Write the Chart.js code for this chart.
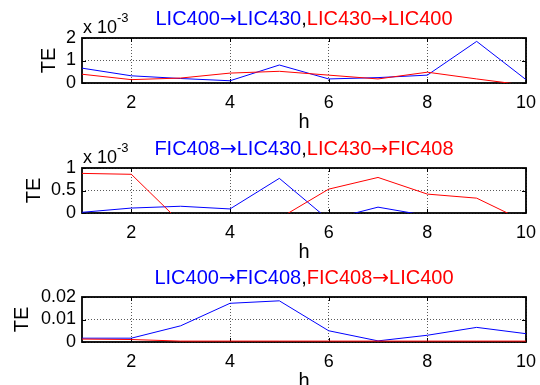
<!DOCTYPE html>
<html>
<head>
<meta charset="utf-8">
<script src="https://cdn.jsdelivr.net/npm/chart.js@4.4.1/dist/chart.umd.min.js"></script>
<style>
  html, body { margin: 0; padding: 0; background: #fff; overflow: hidden; }
  #wrap { position: relative; width: 540px; height: 385px; overflow: hidden; }
  #wrap canvas { position: absolute; left: 0; top: 0; }
</style>
</head>
<body>
<div id="wrap">
  <canvas id="c1" width="540" height="400" style="width:540px;height:400px"></canvas>
  <canvas id="c2" width="540" height="400" style="width:540px;height:400px"></canvas>
  <canvas id="c3" width="540" height="400" style="width:540px;height:400px"></canvas>
</div>
<script>
/* ── data ─────────────────────────────────────────────── */
const H = [1, 2, 3, 4, 5, 6, 7, 8, 9, 10];
const X_TICKS = [2, 4, 6, 8, 10];

// subplot 1 (values x 10^-3)
const TE_LIC400_LIC430 = [0.66, 0.32, 0.2, 0.1, 0.8, 0.18, 0.24, 0.35, 1.85, 0.15];
const TE_LIC430_LIC400 = [0.39, 0.15, 0.22, 0.44, 0.52, 0.35, 0.18, 0.48, 0.18, -0.1];
const Y_TICKS_1 = [0, 1, 2];

// subplot 2 (values x 10^-3)
const TE_FIC408_LIC430 = [0.015, 0.11, 0.15, 0.09, 0.77, -0.15, 0.13, -0.06, -0.1, -0.05];
const TE_LIC430_FIC408 = [0.88, 0.86, -0.21, -0.3, -0.12, 0.53, 0.79, 0.42, 0.33, -0.2];
const Y_TICKS_2 = [0, 0.5, 1];

// subplot 3
const TE_LIC400_FIC408 = [0.0017, 0.0017, 0.0072, 0.0172, 0.0183, 0.005, 0.0005, 0.003, 0.0065, 0.0037];
const TE_FIC408_LIC400 = [0.0013, 0.0011, 0.0004, 0.0004, 0.0004, 0.0004, 0.0004, 0.0004, 0.0004, 0.0004];
const Y_TICKS_3 = [0, 0.01, 0.02];

/* ── look ─────────────────────────────────────────────── */
const FONT = '"Liberation Sans", Arial, Helvetica, sans-serif';
const ARROW_FONT = '"DejaVu Sans", sans-serif';
const BLUE = '#0000ff';
const RED = '#ff0000';
const CANVAS_H = 400;
const AREA_H = 45;
const X_AXIS_H = 51;

/* MATLAB-ish box, inner tick marks, two-colour title, exponent */
const matlabAxes = {
  id: 'matlabAxes',
  beforeDatasetsDraw(chart, args, opts) {
    const { ctx, chartArea: a, scales: { x, y } } = chart;
    ctx.save();
    ctx.strokeStyle = '#000';
    ctx.lineWidth = 1;
    ctx.beginPath();
    X_TICKS.forEach(v => {
      const px = Math.round(x.getPixelForValue(v)) + 0.5;
      ctx.moveTo(px, a.top); ctx.lineTo(px, a.top + 4);
      ctx.moveTo(px, a.bottom); ctx.lineTo(px, a.bottom - 4);
    });
    opts.yTicks.forEach(v => {
      const py = Math.round(y.getPixelForValue(v)) + 0.5;
      ctx.moveTo(a.left, py); ctx.lineTo(a.left + 4, py);
      ctx.moveTo(a.right, py); ctx.lineTo(a.right - 4, py);
    });
    ctx.stroke();
    ctx.lineWidth = 1.8;
    ctx.strokeRect(a.left, a.top, a.right - a.left, a.bottom - a.top);
    ctx.restore();
  },
  afterDraw(chart, args, opts) {
    const { ctx, chartArea: a } = chart;
    ctx.save();
    ctx.textBaseline = 'alphabetic';
    ctx.textAlign = 'left';
    // split on arrows so they can use a font with a proper long arrow
    const runs = [];
    opts.title.forEach(p => {
      p.text.split(/(→)/).filter(t => t).forEach(t => {
        runs.push({ text: t, color: p.color, font: t === '→' ? '20px ' + ARROW_FONT : '20px ' + FONT });
      });
    });
    let total = 0;
    runs.forEach(r => { ctx.font = r.font; r.w = ctx.measureText(r.text).width; total += r.w; });
    let tx = (a.left + a.right) / 2 - total / 2;
    runs.forEach(r => {
      ctx.font = r.font;
      ctx.fillStyle = r.color;
      ctx.fillText(r.text, tx, a.top - 13);
      tx += r.w;
    });
    if (opts.exponent) {
      ctx.fillStyle = '#000';
      ctx.font = '18px ' + FONT;
      ctx.fillText('x 10', a.left + 1, a.top - 5);
      const w = ctx.measureText('x 10').width;
      ctx.font = '13px ' + FONT;
      ctx.fillText(opts.exponent, a.left + 1 + w, a.top - 16);
    }
    ctx.restore();
  }
};

function series(vals, color, order) {
  return {
    data: H.map((h, i) => ({ x: h, y: vals[i] })),
    borderColor: color,
    backgroundColor: color,
    borderWidth: 1,
    pointRadius: 0,
    tension: 0,
    fill: false,
    order: order
  };
}

function makeSubplot(id, top, blue, red, yTicks, yMax, tePad, title, exponent) {
  return new Chart(document.getElementById(id), {
    type: 'line',
    data: { datasets: [series(blue, BLUE, 1), series(red, RED, 0)] },
    plugins: [matlabAxes],
    options: {
      responsive: false,
      animation: false,
      events: [],
      layout: { padding: { top: top, left: 0, right: 14, bottom: CANVAS_H - top - AREA_H - X_AXIS_H } },
      plugins: {
        legend: { display: false },
        tooltip: { enabled: false },
        matlabAxes: { yTicks: yTicks, title: title, exponent: exponent }
      },
      scales: {
        x: {
          type: 'linear', min: 1, max: 10,
          afterBuildTicks: s => { s.ticks = X_TICKS.map(v => ({ value: v })); },
          afterFit: s => { s.height = X_AXIS_H; s.paddingLeft = 0; s.paddingRight = 0; },
          grid: { color: 'rgba(0,0,0,0.65)', lineWidth: 1, drawTicks: false, borderDash: [1, 2] },
          border: { display: false, dash: [1, 2] },
          ticks: { color: '#000', font: { family: FONT, size: 18 }, padding: 9, maxRotation: 0, autoSkip: false },
          title: { display: true, text: 'h', color: '#000', font: { family: FONT, size: 20 }, padding: 0 }
        },
        y: {
          type: 'linear', min: 0, max: yMax,
          afterBuildTicks: s => { s.ticks = yTicks.map(v => ({ value: v })); },
          afterFit: s => { s.width = 82; s.paddingTop = 0; s.paddingBottom = 0; },
          grid: { color: 'rgba(0,0,0,0.65)', lineWidth: 1, drawTicks: false, borderDash: [1, 2] },
          border: { display: false, dash: [1, 2] },
          ticks: { color: '#000', font: { family: FONT, size: 18 }, padding: 6, autoSkip: false, callback: v => String(v) },
          title: { display: true, text: 'TE', color: '#000', font: { family: FONT, size: 20 }, padding: { top: tePad, bottom: 0 } }
        }
      }
    }
  });
}

makeSubplot('c1', 38, TE_LIC400_LIC430, TE_LIC430_LIC400, Y_TICKS_1, 2, 37,
  [{ text: 'LIC400→LIC430', color: BLUE }, { text: ',', color: '#000' }, { text: 'LIC430→LIC400', color: RED }], '-3');
makeSubplot('c2', 168, TE_FIC408_LIC430, TE_LIC430_FIC408, Y_TICKS_2, 1, 22,
  [{ text: 'FIC408→LIC430', color: BLUE }, { text: ',', color: '#000' }, { text: 'LIC430→FIC408', color: RED }], '-3');
makeSubplot('c3', 297, TE_LIC400_FIC408, TE_FIC408_LIC400, Y_TICKS_3, 0.02, 10,
  [{ text: 'LIC400→FIC408', color: BLUE }, { text: ',', color: '#000' }, { text: 'FIC408→LIC400', color: RED }], null);
</script>
</body>
</html>
